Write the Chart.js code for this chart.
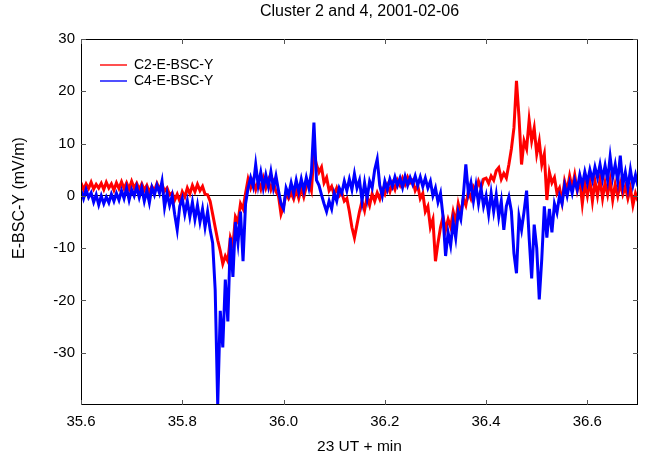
<!DOCTYPE html>
<html>
<head>
<meta charset="utf-8">
<script src="https://cdn.jsdelivr.net/npm/chart.js@4.4.1/dist/chart.umd.min.js"></script>
<style>
html,body{margin:0;padding:0;background:#fff;}
#wrap{width:646px;height:460px;position:relative;}
</style>
</head>
<body>
<div id="wrap"><canvas id="c" width="646" height="460"></canvas></div>
<script>
const chartTitle = "Cluster 2 and 4, 2001-02-06";
const xTitle = "23 UT + min";
const yTitle = "E-BSC-Y (mV/m)";
const seriesNames = ["C2-E-BSC-Y", "C4-E-BSC-Y"];
const xTicks = [35.6, 35.8, 36.0, 36.2, 36.4, 36.6];
const yTicks = [-30, -20, -10, 0, 10, 20, 30];
const tStart = 35.6, tStep = 0.005;

// C2 (red), sampled every 0.005 min from 35.6 to 36.7
const c2 = [
 2.5,1.2,2.3,1.4,2.6,1.3,2.2,1.5,
 2.4,1.2,2.6,1.5,2.3,1.1,2.5,1.4,
 2.7,1.4,2.5,1.3,2.8,1.5,2.4,1.2,
 2.3,1.1,2.0,0.7,1.8,1.0,2.4,1.3,
 2.2,0.9,1.5,0.2,
 0.6,-0.8,0.3,-1.0,
 0.8,-0.2,1.5,0.4,
 2.0,0.8,2.2,1.0,1.8,0.3,
 0.2,-1.0,-3.5,-6.0,-8.5,-10.5,-13.0,-11.5,-12.5,-8.0,
 -9.5,-4.0,-5.0,-1.5,-2.5,0.5,3.2,1.5,3.0,1.2,
 2.8,1.3,3.4,1.5,3.0,1.2,2.6,0.8,0.0,-3.5,
 -2.0,0.5,-0.5,0.6,-0.6,1.2,-0.5,1.5,-0.2,1.8,
 2.5,1.0,8.0,6.0,4.5,5.5,2.5,3.5,1.0,1.8,
 0.2,1.5,0.0,0.6,-1.0,-0.5,-3.0,-6.0,-8.0,-5.5,
 -3.0,-1.0,-2.8,-0.2,-1.8,0.4,-1.0,0.6,-0.6,1.2,
 0.3,2.0,0.8,2.4,1.2,3.0,2.0,3.4,2.2,3.6,
 2.5,3.0,1.0,2.0,-0.5,0.5,-3.0,-2.0,-6.0,-4.5,
 -12.5,-9.0,-6.0,-4.0,-6.5,-4.5,-6.0,-3.0,-5.0,-1.5,
 -3.5,-0.5,-1.8,0.8,-0.5,1.8,1.0,2.8,1.5,3.2,
 3.4,2.4,3.8,3.0,4.8,5.4,3.2,4.3,3.4,6.0,
 9.0,13.0,22.0,15.0,6.0,10.5,9.0,14.5,10.5,13.0,
 8.0,10.5,6.0,8.0,-0.8,4.5,2.5,3.5,0.5,1.5,
 -1.2,2.8,1.0,3.8,1.5,4.0,1.0,3.0,-1.5,2.5,
 0.0,3.0,-1.0,2.8,0.0,3.2,-0.5,2.5,0.2,3.0,
 -0.8,2.2,0.0,2.4,0.3,1.8,-0.5,1.5,-1.8,0.5,
 -1.0
];

// C4 (blue), same sampling
const c4 = [
 1.0,-0.5,1.2,-0.3,0.6,-1.2,0.2,-1.7,
 0.0,-1.5,-0.2,-1.3,0.3,-1.0,0.5,-0.8,
 1.0,-0.5,1.5,-0.8,1.2,0.0,1.7,-0.3,
 1.5,-1.0,1.0,-1.3,1.6,0.2,2.0,0.5,
 2.8,-2.2,0.5,-1.8,0.0,-3.5,-6.5,-2.0,
 -0.5,-3.5,-1.0,-4.0,-1.2,-4.5,-1.8,-5.0,-2.5,-6.0,
 -3.0,-6.5,-9.0,-18.0,-40.0,-22.0,-29.0,-16.0,-24.0,-8.0,
 -15.5,-5.0,-9.0,-3.0,-12.5,-1.5,1.5,3.5,1.8,6.0,
 2.0,4.5,1.5,4.0,1.8,4.6,1.5,3.8,1.0,-1.5,
 -2.5,1.5,0.2,2.5,0.5,3.0,0.8,3.2,1.0,3.5,
 1.5,4.5,14.0,3.0,2.0,0.2,-1.5,-3.0,-1.0,-2.5,
 0.5,-1.0,1.5,0.5,2.8,1.0,3.2,1.2,4.2,1.5,
 3.0,-1.0,2.5,-0.5,2.8,1.5,5.0,7.0,2.0,0.0,
 2.8,1.2,3.2,1.8,3.6,2.0,3.4,1.6,3.7,2.0,
 3.5,2.2,3.8,2.0,3.6,1.8,3.4,1.5,2.8,0.0,
 1.5,-1.2,0.5,-4.0,-11.5,-7.0,-9.5,-5.0,-8.0,-3.0,
 -4.5,0.0,6.0,0.5,2.5,-1.0,2.0,-1.5,1.5,-2.0,
 0.0,-3.5,0.5,-3.0,0.2,-4.0,-1.0,-6.5,-2.0,-0.2,
 -3.0,-11.0,-14.8,-4.0,-6.5,-3.0,1.0,-8.0,-15.8,-5.5,
 -10.0,-19.8,-12.0,-2.0,-8.0,-2.5,-7.0,-1.5,-3.2,0.0,
 -1.5,2.0,0.0,2.5,0.5,3.0,1.2,4.0,2.0,4.6,
 2.5,5.0,3.0,5.5,3.5,6.0,3.2,5.8,3.0,7.5,
 3.5,6.0,2.8,7.7,2.0,4.5,1.5,5.0,2.0,4.0,
 1.8
];

const times = c2.map((_, i) => +(tStart + i * tStep).toFixed(3));
const toXY = arr => arr.map((v, i) => ({x: times[i], y: v}));

const FONT = '"Liberation Sans", Arial, Helvetica, sans-serif';

const decor = {
  id: 'decor',
  afterDraw(chart) {
    const ctx = chart.ctx, a = chart.chartArea;
    const xs = chart.scales.x, ys = chart.scales.y;
    ctx.save();
    ctx.strokeStyle = '#000';
    ctx.lineWidth = 1;
    ctx.strokeRect(a.left + 0.5, a.top + 0.5, a.right - a.left - 1, a.bottom - a.top - 1);
    ctx.strokeStyle = '#555';
    ctx.beginPath();
    xTicks.forEach(v => {
      const p = Math.round(xs.getPixelForValue(v)) + 0.5;
      ctx.moveTo(p, a.bottom); ctx.lineTo(p, a.bottom - 5);
      ctx.moveTo(p, a.top); ctx.lineTo(p, a.top + 5);
    });
    yTicks.forEach(v => {
      const p = Math.round(ys.getPixelForValue(v)) + 0.5;
      ctx.moveTo(a.left, p); ctx.lineTo(a.left + 5, p);
      ctx.moveTo(a.right, p); ctx.lineTo(a.right - 5, p);
    });
    ctx.stroke();
    ctx.fillStyle = '#000';
    ctx.textAlign = 'center';
    ctx.textBaseline = 'middle';
    ctx.font = '16px ' + FONT;
    ctx.fillText(chartTitle, (a.left + a.right) / 2, 12);
    ctx.font = '15.5px ' + FONT;
    ctx.fillText(xTitle, (a.left + a.right) / 2, 447);
    ctx.save();
    ctx.translate(20, 198);
    ctx.rotate(-Math.PI / 2);
    ctx.font = '16px ' + FONT;
    ctx.fillText(yTitle, 0, 0);
    ctx.restore();
    const legCols = ['#ff5050', '#5050ff'];
    ctx.font = '14px ' + FONT;
    ctx.textAlign = 'left';
    [65, 81].forEach((yy, k) => {
      ctx.strokeStyle = legCols[k];
      ctx.lineWidth = 2;
      ctx.beginPath();
      ctx.moveTo(100, yy); ctx.lineTo(127, yy);
      ctx.stroke();
      ctx.fillStyle = '#000';
      ctx.fillText(seriesNames[k], 134, yy);
    });
    ctx.restore();
  }
};

new Chart(document.getElementById('c'), {
  type: 'line',
  data: {
    datasets: [
      {label: seriesNames[1], data: toXY(c4), borderColor: '#0000ff', borderWidth: 3, pointRadius: 0, tension: 0, fill: false, borderJoinStyle: 'miter'},
      {label: seriesNames[0], data: toXY(c2), borderColor: '#ff0000', borderWidth: 3, pointRadius: 0, tension: 0, fill: false, borderJoinStyle: 'miter'}
    ]
  },
  options: {
    responsive: false,
    animation: false,
    devicePixelRatio: 1,
    layout: {padding: {top: 39, right: 8, left: 0, bottom: 0}},
    plugins: {legend: {display: false}, tooltip: {enabled: false}, title: {display: false}},
    scales: {
      x: {
        type: 'linear', min: 35.6, max: 36.7,
        afterFit: s => { s.height = 55; },
        afterBuildTicks: s => { s.ticks = xTicks.map(v => ({value: v})); },
        grid: {display: false, drawTicks: false},
        border: {display: false},
        ticks: {padding: 8, color: '#000', font: {family: FONT, size: 15}, maxRotation: 0,
          callback: v => Number(v).toFixed(1)}
      },
      y: {
        type: 'linear', min: -40, max: 30,
        afterFit: s => { s.width = 81; },
        afterBuildTicks: s => { s.ticks = yTicks.map(v => ({value: v})); },
        grid: {drawTicks: false, lineWidth: 1, color: c => (c.tick && c.tick.value === 0) ? '#000' : 'rgba(0,0,0,0)'},
        border: {display: false},
        ticks: {padding: 6, color: '#000', font: {family: FONT, size: 15}, callback: v => String(v)}
      }
    }
  },
  plugins: [decor]
});
</script>
</body>
</html>
